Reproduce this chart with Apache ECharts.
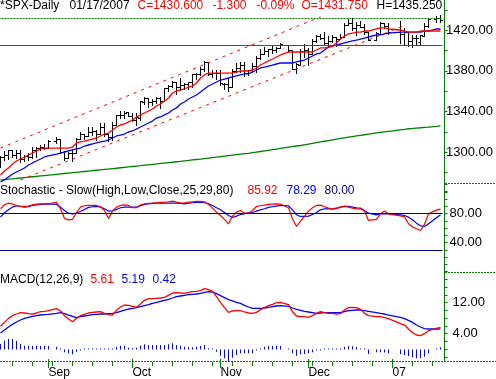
<!DOCTYPE html>
<html><head><meta charset="utf-8">
<script src="https://cdn.jsdelivr.net/npm/echarts/dist/echarts.min.js"></script>
<style>html,body{margin:0;padding:0;background:#fff}#c{width:496px;height:379px}</style>
</head><body><div id="c"></div>
<script>
// ---------- categories: every weekday 2006-08-16 .. 2007-01-17 (holidays stay as empty slots)
const cats = [];
for (let d = new Date(Date.UTC(2006, 7, 16)); d <= new Date(Date.UTC(2007, 0, 17)); d.setUTCDate(d.getUTCDate() + 1)) {
  const wd = d.getUTCDay();
  if (wd === 0 || wd === 6) continue;
  cats.push(d.toISOString().slice(0, 10));
}
const monthLabels = {'2006-09-01': 'Sep', '2006-10-02': 'Oct', '2006-11-01': 'Nov', '2006-12-01': 'Dec', '2007-01-01': '07'};

// ---------- price (OHLC)
const opens = [1285.6,1295.4,1297.5,
 1302.3,1297.5,1298.8,1293.0,1296.1, 1295.1,1301.8,1304.3,1305.4,1303.8,
 null,1311.0,1313.0,1300.2,1294.0, 1298.9,1299.5,1312.7,1318.0,1316.3,
 1319.9,1321.2,1318.3,1324.9,1318.0, 1314.8,1326.4,1336.1,1336.6,1339.2,
 1335.8,1331.3,1333.8,1349.8,1353.2, 1349.6,1350.6,1353.3,1350.0,1362.8,
 1365.6,1369.1,1364.1,1365.8,1367.0, 1368.6,1377.0,1377.4,1382.2,1388.9,
 1377.3,1377.9,1377.8,1367.4,1367.3, 1364.3,1379.8,1382.5,1385.4,1378.3,
 1380.6,1384.4,1392.9,1396.5,1399.8, 1401.2,1400.4,1402.7,null,1405.9,
 1400.9,1381.6,1386.1,1399.5,1400.6, 1396.7,1409.1,1414.4,1412.9,1407.3,
 1409.8,1413.0,1411.3,1413.2,1425.5, 1427.1,1422.4,1425.5,1423.2,1418.1,
 null,1410.8,1416.6,1426.8,1424.7, null,null,1418.0,1416.6,1418.3,
 1409.3,1412.8,1408.7,1414.8,1423.8, null,1430.7,1431.75];
const highs = [1296.2,1300.8,1302.3,
 1302.3,1302.5,1301.6,1297.6,1298.9, 1305.0,1305.0,1306.7,1308.0,1312.4,
 null,1314.7,1313.0,1301.3,1300.1, 1302.4,1314.3,1319.9,1318.0,1324.7,
 1324.9,1322.0,1328.5,1328.2,1318.0, 1329.4,1336.6,1340.1,1340.3,1339.9,
 1338.5,1338.3,1350.2,1353.8,1353.2, 1352.7,1354.2,1353.9,1363.0,1366.6,
 1370.2,1369.1,1372.9,1368.1,1368.6, 1377.4,1377.8,1383.6,1389.4,1388.9,
 1381.2,1381.2,1381.0,1368.4,1371.7, 1381.4,1388.2,1388.6,1388.9,1381.0,
 1387.6,1394.5,1401.4,1403.8,1401.2, 1404.4,1403.5,1407.9,null,1405.9,
 1400.9,1387.6,1401.1,1406.3,1402.5, 1411.2,1415.3,1415.9,1418.3,1414.1,
 1415.6,1413.8,1416.6,1427.2,1431.6, 1431.8,1428.3,1429.1,1426.4,1418.8,
 null,1417.9,1427.7,1427.3,1427.0, null,null,1429.4,1421.8,1418.3,
 1415.0,1415.6,1415.0,1427.1,1431.2, null,1433.9,1435.25];
const lows = [1285.6,1292.7,1293.6,
 1295.5,1294.0,1289.8,1291.0,1292.7, 1293.9,1295.3,1302.2,1302.8,1303.8,
 null,1308.8,1299.3,1292.1,1294.0, 1290.9,1299.5,1312.7,1313.3,1316.3,
 1317.2,1312.0,1318.3,1315.5,1310.6, 1311.6,1326.4,1333.5,1333.8,1335.6,
 1330.3,1327.1,1331.5,1347.8,1344.2, 1346.6,1348.6,1343.4,1350.0,1360.5,
 1364.5,1356.9,1360.9,1362.1,1362.1, 1363.9,1372.4,1376.0,1379.5,1375.9,
 1373.5,1372.2,1366.1,1362.2,1360.2, 1364.3,1379.2,1379.3,1374.7,1375.6,
 1378.8,1379.1,1392.1,1396.5,1394.6, 1397.2,1399.0,1402.3,null,1399.3,
 1381.4,1377.8,1386.1,1393.8,1385.9, 1396.7,1408.8,1411.1,1406.8,1403.7,
 1408.6,1404.8,1411.0,1413.2,1425.5, 1420.1,1414.9,1423.5,1415.9,1410.1,
 null,1410.4,1416.6,1422.0,1416.8, null,null,1407.9,1405.1,1405.0,
 1404.0,1405.4,1405.3,1414.8,1422.8, null,1428.6,1428.0];
const closes = [1295.4,1297.5,1302.3,
 1297.5,1298.8,1293.0,1296.1,1295.1, 1301.8,1304.3,1305.4,1303.8,1311.0,
 null,1313.3,1300.3,1294.0,1298.9, 1299.5,1313.0,1318.1,1316.3,1319.7,
 1321.2,1317.6,1325.2,1318.0,1314.8, 1326.4,1336.3,1336.6,1338.9,1335.9,
 1331.3,1334.1,1350.2,1353.2,1349.6, 1350.7,1353.4,1350.0,1362.8,1365.6,
 1369.1,1364.1,1365.8,1367.0,1368.6, 1377.0,1377.4,1382.2,1389.1,1377.3,
 1377.9,1377.9,1367.8,1367.3,1364.3, 1379.8,1382.8,1385.7,1378.3,1380.9,
 1384.4,1393.2,1396.6,1399.8,1401.2, 1400.5,1402.8,1406.1,null,1401.0,
 1382.0,1386.7,1399.5,1400.6,1396.7, 1409.1,1414.8,1412.9,1407.3,1409.8,
 1413.0,1411.6,1413.2,1425.5,1427.1, 1422.5,1425.6,1423.5,1418.3,1410.8,
 null,1416.9,1426.8,1424.7,1418.3, null,null,1416.6,1418.3,1409.7,
 1412.8,1412.1,1414.9,1423.8,1430.7, null,1431.9,1430.6];

// ---------- price overlays
const redMA = [1277.4,1281.4,1284.3,
 1288.3,1291.2,1293.2,1295.2,1297.1, 1299.1,1301.1,1303.1,1304.0,1304.0,
 null,1304.0,1304.0,1304.0,1304.0, 1305.0,1309.0,1310.0,1310.9,1311.9,
 1312.9,1313.9,1315.9,1317.8,1318.8, 1321.8,1324.7,1326.7,1327.7,1329.7,
 1331.6,1334.6,1336.6,1338.5,1340.5, 1342.5,1345.4,1347.4,1350.3,1353.3,
 1358.2,1360.2,1361.2,1362.2,1364.1, 1365.1,1368.1,1373.0,1376.0,1377.9,
 1377.9,1377.9,1377.9,1377.9,1377.9, 1377.9,1378.9,1379.9,1379.9,1379.9,
 1380.9,1382.9,1385.8,1387.8,1389.8, 1391.7,1393.7,1395.7,null,1398.6,
 1398.6,1398.6,1398.6,1398.6,1398.6, 1398.6,1400.6,1402.6,1402.6,1403.5,
 1404.5,1407.5,1411.4,1414.4,1416.4, 1417.3,1418.3,1418.3,1419.3,1419.3,
 null,1421.3,1422.3,1422.3,1421.3, null,null,1420.3,1419.3,1418.3,
 1418.3,1418.3,1419.3,1419.3,1419.3, null,1419.3,1419.3];
const blueMA = [1270.5,1272.5,1275.5,
 1278.4,1280.4,1282.4,1284.3,1287.3, 1289.3,1291.2,1293.2,1295.2,1296.2,
 null,1298.1,1299.1,1300.1,1301.1, 1302.1,1303.1,1304.0,1306.0,1307.0,
 1308.0,1309.0,1310.0,1310.9,1311.9, 1313.9,1315.9,1316.8,1317.8,1319.8,
 1320.8,1322.8,1324.7,1326.7,1328.7, 1330.6,1333.6,1334.6,1336.6,1338.5,
 1341.5,1343.5,1347.4,1349.4,1352.3, 1354.3,1356.3,1359.2,1362.2,1365.1,
 1367.1,1369.1,1371.0,1372.0,1373.0, 1374.0,1375.0,1376.0,1377.0,1377.0,
 1378.9,1380.9,1382.9,1383.8,1384.8, 1385.8,1386.8,1387.8,null,1387.8,
 1387.8,1388.8,1389.8,1390.7,1392.7, 1394.7,1396.7,1397.6,1400.6,1403.5,
 1404.5,1405.5,1406.5,1407.5,1408.5, 1409.5,1410.4,1411.4,1412.4,1413.4,
 null,1415.4,1415.4,1416.4,1417.3, null,null,1418.3,1418.3,1418.3,
 1418.3,1418.3,1418.3,1419.3,1419.3, null,1421.3,1421.3];
const greenMA = [1272.5,1272.9,1273.3,
 1273.7,1274.1,1274.5,1274.9,1275.3, 1275.7,1276.1,1276.5,1276.9,1277.3,
 null,1278.1,1278.5,1278.9,1279.3, 1279.7,1280.1,1280.5,1280.9,1281.3,
 1281.7,1282.1,1282.5,1282.9,1283.3, 1283.7,1284.1,1284.6,1285.0,1285.4,
 1285.8,1286.2,1286.6,1287.1,1287.5, 1287.9,1288.3,1288.8,1289.2,1289.6,
 1290.0,1290.5,1290.9,1291.4,1291.8, 1292.3,1292.7,1293.0,1293.5,1294.0,
 1294.5,1295.0,1295.5,1296.0,1296.5, 1297.0,1297.5,1298.0,1298.4,1298.8,
 1299.4,1300.0,1300.6,1301.2,1301.8, 1302.4,1303.0,1303.6,null,1304.8,
 1305.4,1306.0,1306.5,1307.2,1307.9, 1308.6,1309.3,1310.0,1310.7,1311.4,
 1312.1,1312.8,1313.5,1314.1,1314.7, 1315.3,1315.9,1316.5,1317.1,1317.7,
 null,1318.9,1319.4,1319.9,1320.4, null,null,1321.9,1322.4,1323.0,
 1323.3,1323.7,1324.0,1324.4,1324.7, null,1325.4,1325.8];
const upperChannel = [[0, 1304.0], [80, 1433.3]];
const lowerChannel = [[5, 1272.5], [101, 1424.8]];
const resistanceLevel = 1431.63;
const supportLevel = 1405.0;

// ---------- stochastic
const stochK = [86.5,92.0,94.3,
 93.0,91.1,89.7,89.7,90.2, 92.0,93.0,93.4,93.4,93.4,
 null,95.3,86.5,73.1,71.3, 71.8,81.4,88.8,90.7,91.1,
 91.1,91.1,89.3,84.2,73.1, 83.3,88.8,91.1,92.0,91.1,
 87.9,87.9,91.6,93.4,93.9, 94.3,94.8,95.3,95.7,96.2,
 97.1,95.7,94.3,94.8,95.7, 96.2,96.6,96.6,96.2,92.5,
 87.4,81.9,77.3,71.8,65.8, 76.4,81.9,84.2,80.5,80.5,
 84.2,89.7,90.7,91.6,92.5, 93.0,93.4,93.0,null,87.9,
 72.7,62.1,69.5,75.9,83.3, 87.9,91.1,91.6,89.3,87.4,
 86.5,86.5,88.8,90.2,88.8, 87.4,86.5,86.5,83.3,70.4,
 null,71.8,79.6,83.3,79.6, null,null,76.8,75.4,65.8,
 61.6,58.9,56.6,64.9,79.6, null,84.7,85.92];
const stochD = [75.0,81.0,85.1,
 88.8,90.7,89.7,88.8,89.3, 91.1,92.0,92.5,93.0,93.4,
 null,92.5,88.8,84.2,80.5, 79.6,80.5,82.8,85.6,88.4,
 89.3,89.7,88.8,86.5,83.3, 83.7,85.6,87.9,88.8,88.8,
 88.8,88.8,90.7,92.5,93.4, 93.9,94.3,94.3,94.3,94.3,
 94.3,94.3,93.9,93.4,93.9, 94.8,95.3,95.3,94.8,93.4,
 91.1,87.9,85.1,81.4,77.3, 74.5,76.4,78.7,79.6,81.0,
 81.4,83.3,85.1,86.5,88.4, 89.3,90.2,91.1,null,90.7,
 85.1,78.2,75.9,75.9,76.4, 78.7,81.4,85.1,86.5,86.5,
 86.5,87.4,88.8,89.7,89.7, 88.8,87.9,87.4,84.2,80.5,
 null,78.2,79.6,79.6,79.6, null,null,78.2,77.3,75.0,
 71.3,66.7,63.0,62.1,65.8, null,74.1,78.29];
const stochUpper = 80;
const stochLower = 29;

// ---------- MACD
const macd = [5.85,6.88,7.91,
 8.60,9.03,9.38,9.29,9.12, 9.03,9.29,9.63,9.72,9.89,
 null,10.41,9.81,8.60,7.74, 7.05,7.91,8.60,8.95,9.29,
 9.46,9.55,9.63,9.20,8.86, 8.77,9.98,10.84,11.36,11.27,
 11.01,10.75,11.61,12.56,12.99, 12.99,13.08,13.16,13.33,13.85,
 14.45,14.54,14.45,14.37,14.62, 14.80,14.88,15.05,15.57,15.31,
 14.88,13.51,12.04,10.67,9.46, 9.81,9.89,9.89,9.55,9.29,
 9.20,9.46,10.15,10.67,11.18, 11.53,11.96,12.04,null,11.44,
 9.63,8.52,8.34,8.34,8.17, 8.60,9.20,9.63,9.38,9.20,
 9.20,9.03,9.12,10.06,10.67, 10.75,10.67,10.24,9.20,8.60,
 null,8.34,8.34,8.09,7.83, null,null,6.54,6.19,5.16,
 4.21,3.61,3.44,3.96,4.73, null,5.33,5.61];
const signal = [4.13,4.90,5.68,
 6.37,6.97,7.48,7.91,8.17, 8.43,8.60,8.77,8.86,8.95,
 null,9.20,9.38,9.12,8.77, 8.43,8.09,8.34,8.52,8.69,
 8.86,8.95,9.03,9.03,9.12, 9.20,9.38,9.72,10.06,10.32,
 10.49,10.67,10.93,11.18,11.44, 11.79,12.04,12.30,12.56,12.82,
 13.16,13.51,13.68,13.85,14.02, 14.11,14.19,14.37,14.62,14.80,
 14.71,14.28,13.76,13.25,12.73, 12.39,12.04,11.79,11.27,10.84,
 10.49,10.49,10.49,10.58,10.75, 10.93,11.10,11.18,null,11.01,
 10.58,10.24,9.98,9.72,9.55, 9.38,9.20,9.29,9.38,9.38,
 9.38,9.38,9.38,9.63,9.89, 9.98,10.06,10.06,9.89,9.72,
 null,9.38,9.20,9.03,8.77, null,null,8.17,7.83,7.40,
 6.88,6.19,5.68,5.25,5.16, null,5.16,5.19];
const hist = [1.00,1.61,1.91,
 1.91,1.55,1.00,0.70,0.70, 0.64,0.64,0.64,0.64,0.64,
 null,0.52,0.18,-0.52,-0.70, -0.88,-0.39,-0.10,0.10,0.15,
 0.20,0.20,0.15,0.10,0.05, 0.05,0.52,0.70,0.70,0.33,
 0.21,0.33,0.70,0.94,0.82, 0.82,0.82,0.82,0.82,0.94,
 1.12,0.82,0.70,0.52,0.39, 0.39,0.52,0.64,0.82,0.21,
 0.09,-0.39,-1.12,-1.61,-2.09, -1.48,-1.00,-0.70,-0.70,-0.70,
 -0.70,-0.20,0.10,0.52,0.64, 0.64,0.64,0.64,null,0.20,
 -0.70,-1.12,-0.88,-0.82,-0.70, -0.52,-0.10,-0.15,0.00,0.00,
 0.00,0.10,0.20,0.45,0.60, 0.60,0.45,0.15,0.10,-0.80,
 null,-0.52,-0.52,-0.55,-0.70, null,null,-0.82,-1.00,-1.18,
 -1.42,-1.61,-1.61,-1.30,-0.70, null,0.05,0.42];
// -------------------------------------------------------------

const RED = '#ff0000', BLUE = '#0000ff', GREEN = '#008000', NAVY = '#000080';
const FONT = 'Arial, "Liberation Sans", sans-serif';
const last = cats.length - 1;

const ohlcData = [];
for (let i = 0; i < cats.length; i++) {
  if (closes[i] != null) ohlcData.push([i, opens[i], highs[i], lows[i], closes[i]]);
}

function renderOHLC(params, api) {
  const i = api.value(0);
  const cxRaw = api.coord([i, api.value(4)])[0];
  const px = Math.floor(cxRaw) + 0.5;
  const yy = v => api.coord([i, v])[1];
  const oy = Math.round(yy(api.value(1))) + 0.5;
  const cy = Math.round(yy(api.value(4))) + 0.5;
  const hy = Math.round(yy(api.value(2)));
  const ly = Math.round(yy(api.value(3))) + 1;
  return {type: 'group', children: [
    {type: 'line', shape: {x1: px, y1: hy, x2: px, y2: ly}, style: {stroke: '#000', lineWidth: 1}},
    {type: 'line', shape: {x1: px - 2.5, y1: oy, x2: px, y2: oy}, style: {stroke: '#000', lineWidth: 1}},
    {type: 'line', shape: {x1: px, y1: cy, x2: px + 2.5, y2: cy}, style: {stroke: '#000', lineWidth: 1}}
  ]};
}

function T(text, left, top, color) {
  return {text: text, left: left, top: top, padding: 0,
    textStyle: {color: color, fontSize: 12, fontWeight: 'normal', fontFamily: FONT}};
}

const chg = closes[last] - closes[last - 1];
const pct = chg / closes[last - 1] * 100;

const GL = -1.5, GW = 444;
const grids = [
  {left: GL, width: GW, top: 10, height: 182.7, outerBoundsMode: 'none'},
  {left: GL, width: GW, top: 184.48, height: 87.06, outerBoundsMode: 'none'},
  {left: GL, width: GW, top: 271.5, height: 85.25, outerBoundsMode: 'none'},
  {left: GL, width: GW, top: 271.5, height: 90.5, outerBoundsMode: 'none'}
];

const isMonday = v => new Date(v + 'T00:00:00Z').getUTCDay() === 1;
const isMonth = v => Object.prototype.hasOwnProperty.call(monthLabels, v);

function hiddenX(g) {
  return {type: 'category', gridIndex: g, data: cats, boundaryGap: true,
    axisLine: {show: false, onZero: false}, axisTick: {show: false}, axisLabel: {show: false}, splitLine: {show: false}};
}

const xAxes = [hiddenX(0), hiddenX(1), hiddenX(2),
  {type: 'category', gridIndex: 3, data: cats, boundaryGap: true, position: 'bottom',
    axisLine: {show: false, onZero: false},
    axisTick: {show: true, alignWithLabel: true, length: 4, interval: (i, v) => isMonday(v), lineStyle: {color: GREEN, width: 1}},
    axisLabel: {show: true, interval: (i, v) => isMonth(v), formatter: v => monthLabels[v] || '', align: 'left',
      margin: 5, fontSize: 12, color: '#000', fontFamily: FONT},
    splitLine: {show: false}},
  {type: 'category', gridIndex: 3, data: cats, boundaryGap: true, position: 'bottom',
    axisLine: {show: false, onZero: false},
    axisTick: {show: true, alignWithLabel: true, length: 6, interval: (i, v) => isMonth(v), lineStyle: {color: GREEN, width: 1}},
    axisLabel: {show: false}, splitLine: {show: false}},
  {type: 'category', gridIndex: 3, data: cats, boundaryGap: true, position: 'bottom',
    axisLine: {show: false, onZero: false},
    axisTick: {show: true, inside: true, alignWithLabel: true, length: 3, interval: (i, v) => isMonth(v), lineStyle: {color: GREEN, width: 1}},
    axisLabel: {show: false}, splitLine: {show: false}}
];

function rightY(g, min, max, interval, labelFn, margin) {
  return {type: 'value', gridIndex: g, position: 'right', offset: 2, min: min, max: max, interval: interval, scale: true,
    axisLine: {show: false}, splitLine: {show: false},
    axisTick: {show: true, length: 3, lineStyle: {color: GREEN, width: 1}},
    axisLabel: {show: true, margin: margin, fontSize: 13, color: '#000', fontFamily: FONT,
      formatter: v => labelFn(v) ? v.toFixed(2) : ''}};
}

const yAxes = [
  rightY(0, 1260, 1440, 20, v => v >= 1300 && v <= 1420 && (v - 1300) % 40 === 0, 1.5),
  rightY(1, 0, 120, 10, v => v === 40 || v === 80, 5),
  rightY(2, -2, 20, 2, v => v === 4 || v === 12, 8),
  {type: 'value', gridIndex: 3, show: false, min: -2.27, max: 14.18, splitLine: {show: false}}
];

const lineBase = {type: 'line', showSymbol: false, symbol: 'none', connectNulls: true, silent: true,
  emphasis: {disabled: true}, animation: false};

const option = {
  animation: false,
  backgroundColor: '#fff',
  textStyle: {fontFamily: FONT},
  title: [
    T('*SPX-Daily', 0, 0, '#000'),
    T('01/17/2007', 69.5, 0, '#000'),
    T('C=' + closes[last].toFixed(3), 137.5, 0, RED),
    T(chg.toFixed(3), 212.5, 0, RED),
    T(pct.toFixed(2) + '%', 256.5, 0, RED),
    T('O=' + opens[last].toFixed(3), 301.5, 0, RED),
    T('H=' + highs[last].toFixed(3), 376.5, 0, '#000'),
    T('Stochastic - Slow(High,Low,Close,25,29,80)', 0, 184.5, '#000'),
    T(stochK[last].toFixed(2), 247.5, 184.5, RED),
    T(stochD[last].toFixed(2), 286.5, 184.5, BLUE),
    T(stochUpper.toFixed(2), 324.5, 184.5, NAVY),
    T('MACD(12,26,9)', 0, 273.5, '#000'),
    T(macd[last].toFixed(2), 90.5, 273.5, RED),
    T(signal[last].toFixed(2), 121.5, 273.5, BLUE),
    T(hist[last].toFixed(2), 152.5, 273.5, BLUE)
  ],
  grid: grids,
  xAxis: xAxes,
  yAxis: yAxes,
  graphic: [
    {type: 'line', silent: true, shape: {x1: 444.5, y1: 0, x2: 444.5, y2: 362}, style: {stroke: GREEN, lineWidth: 1}},
    {type: 'line', silent: true, shape: {x1: 445, y1: 183.5, x2: 496, y2: 183.5}, style: {stroke: GREEN, lineWidth: 1, lineDash: [2, 1]}},
    {type: 'line', silent: true, shape: {x1: 445, y1: 272.5, x2: 496, y2: 272.5}, style: {stroke: GREEN, lineWidth: 1, lineDash: [2, 1]}},
    {type: 'line', silent: true, shape: {x1: 0, y1: 361.5, x2: 496, y2: 361.5}, style: {stroke: GREEN, lineWidth: 1, lineDash: [2, 1]}}
  ],
  series: [
    Object.assign({}, lineBase, {name: 'MA200', xAxisIndex: 0, yAxisIndex: 0, data: greenMA, lineStyle: {color: GREEN, width: 1.3},
      markLine: {silent: true, symbol: ['none', 'none'], label: {show: false}, animation: false, emphasis: {disabled: true},
        data: [
          {yAxis: resistanceLevel, lineStyle: {color: GREEN, width: 1, type: [2, 1]}},
          {yAxis: supportLevel, lineStyle: {color: RED, width: 1, type: 'solid'}}
        ]}}),
    Object.assign({}, lineBase, {name: 'upper', xAxisIndex: 0, yAxisIndex: 0, data: upperChannel, lineStyle: {color: RED, width: 1, type: [3, 5]}}),
    Object.assign({}, lineBase, {name: 'lower', xAxisIndex: 0, yAxisIndex: 0, data: lowerChannel, lineStyle: {color: RED, width: 1, type: [3, 5]}}),
    Object.assign({}, lineBase, {name: 'blueMA', xAxisIndex: 0, yAxisIndex: 0, data: blueMA, lineStyle: {color: BLUE, width: 1.3}}),
    Object.assign({}, lineBase, {name: 'redMA', xAxisIndex: 0, yAxisIndex: 0, data: redMA, lineStyle: {color: RED, width: 1.3}}),
    {type: 'custom', name: 'SPX', xAxisIndex: 0, yAxisIndex: 0, data: ohlcData, renderItem: renderOHLC,
      encode: {x: 0, y: [1, 2, 3, 4]}, silent: true, animation: false, clip: false},
    Object.assign({}, lineBase, {name: '%D', xAxisIndex: 1, yAxisIndex: 1, data: stochD, lineStyle: {color: BLUE, width: 1.2}}),
    Object.assign({}, lineBase, {name: '%K', xAxisIndex: 1, yAxisIndex: 1, data: stochK, lineStyle: {color: RED, width: 1.2},
      markLine: {silent: true, symbol: ['none', 'none'], label: {show: false}, animation: false, emphasis: {disabled: true},
        data: [
          {yAxis: stochUpper, lineStyle: {color: NAVY, width: 1, type: 'solid'}},
          {yAxis: stochLower, lineStyle: {color: NAVY, width: 1, type: 'solid'}}
        ]}}),
    {type: 'bar', name: 'hist', xAxisIndex: 3, yAxisIndex: 3, data: hist, barWidth: 1, barMinHeight: 1,
      itemStyle: {color: BLUE}, silent: true, animation: false},
    Object.assign({}, lineBase, {name: 'signal', xAxisIndex: 2, yAxisIndex: 2, data: signal, lineStyle: {color: BLUE, width: 1.3}}),
    Object.assign({}, lineBase, {name: 'macd', xAxisIndex: 2, yAxisIndex: 2, data: macd, lineStyle: {color: RED, width: 1.3}})
  ]
};

const chart = echarts.init(document.getElementById('c'), null, {renderer: 'canvas'});
chart.setOption(option);
</script></body></html>
